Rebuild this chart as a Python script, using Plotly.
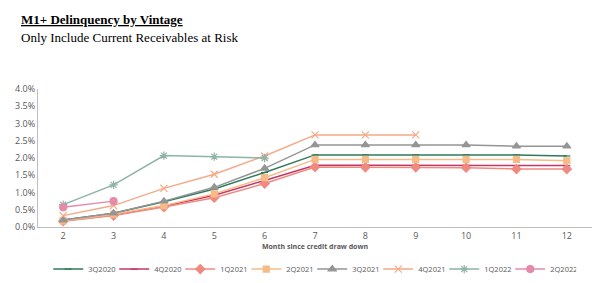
import plotly.graph_objects as go

months = ["2", "3", "4", "5", "6", "7", "8", "9", "10", "11", "12"]

s_3Q2020 = [0.0020, 0.0040, 0.0073, 0.0110, 0.0158, 0.0209, 0.0209, 0.0209, 0.0209, 0.0209, 0.0206]
s_4Q2020 = [0.0018, 0.0035, 0.0060, 0.0092, 0.0135, 0.0179, 0.0179, 0.0179, 0.0179, 0.0178, 0.0178]
s_1Q2021 = [0.0017, 0.0033, 0.0058, 0.0085, 0.0126, 0.0174, 0.0173, 0.0173, 0.0172, 0.0168, 0.0168]
s_2Q2021 = [0.0018, 0.0037, 0.0062, 0.0096, 0.0143, 0.0196, 0.0196, 0.0196, 0.0196, 0.0196, 0.0192]
s_3Q2021 = [0.0020, 0.0040, 0.0075, 0.0115, 0.0170, 0.0238, 0.0238, 0.0238, 0.0238, 0.0234, 0.0234]
s_4Q2021 = [0.0033, 0.0062, 0.0112, 0.0153, 0.0206, 0.0267, 0.0267, 0.0267]
s_1Q2022 = [0.0065, 0.0122, 0.0207, 0.0204, 0.0200]
s_2Q2022 = [0.0057, 0.0075]

series = [
    ("3Q2020", s_3Q2020, "#2f7a5c", "line-ew-open", 5),
    ("4Q2020", s_4Q2020, "#c2376a", "line-ew-open", 5),
    ("1Q2021", s_1Q2021, "#f08a80", "diamond", 7),
    ("2Q2021", s_2Q2021, "#f6bb86", "square", 6),
    ("3Q2021", s_3Q2021, "#959595", "triangle-up", 7),
    ("4Q2021", s_4Q2021, "#f4a987", "x-thin-open", 7),
    ("1Q2022", s_1Q2022, "#8db3a6", "asterisk-open", 7),
    ("2Q2022", s_2Q2022, "#e58aa8", "circle", 7),
]

fig = go.Figure()
for name, vals, color, sym, size in series:
    fig.add_trace(go.Scatter(
        x=months[:len(vals)], y=vals, name=name, mode="lines+markers",
        line=dict(color=color, width=1.5),
        marker=dict(symbol=sym, size=size, color=color, line=dict(color=color, width=1.2)),
    ))

fig.update_layout(
    width=599, height=283,
    margin=dict(l=38, r=7, t=89, b=56, autoexpand=False),
    paper_bgcolor="white", plot_bgcolor="white",
    showlegend=True,
    legend=dict(orientation="h", x=0.495, xanchor="center", y=-0.2, yanchor="top",
                font=dict(family="Open Sans", size=7.5, color="#595959"),
                itemwidth=30, entrywidth=21, tracegroupgap=0,
                bgcolor="rgba(0,0,0,0)"),
    xaxis=dict(type="category", categoryorder="array", categoryarray=months,
               range=[-0.5, 10.5], showline=True, linecolor="#bfbfbf", linewidth=1,
               ticks="", showgrid=False, zeroline=False,
               tickfont=dict(family="Open Sans", size=9, color="#595959"),
               title=dict(text="<b>Month since credit draw down</b>",
                          font=dict(family="Open Sans", size=7, color="#595959"), standoff=2)),
    yaxis=dict(range=[0, 0.04], dtick=0.005, tickformat=".1%", showline=True,
               linecolor="#bfbfbf", linewidth=1, ticks="", showgrid=False, zeroline=False,
               tickfont=dict(family="Open Sans", size=9, color="#595959")),
    annotations=[
        dict(text="<u><b>M1+ Delinquency by Vintage</b></u>", xref="paper", yref="paper",
             x=-0.035, y=1.0, xanchor="left", yanchor="bottom", showarrow=False,
             yshift=60, font=dict(family="Liberation Serif", size=13, color="#000")),
        dict(text="Only Include Current Receivables at Risk", xref="paper", yref="paper",
             x=-0.035, y=1.0, xanchor="left", yanchor="bottom", showarrow=False,
             yshift=42, font=dict(family="Liberation Serif", size=13, color="#000")),
    ],
)

fig.write_html("out.html")
